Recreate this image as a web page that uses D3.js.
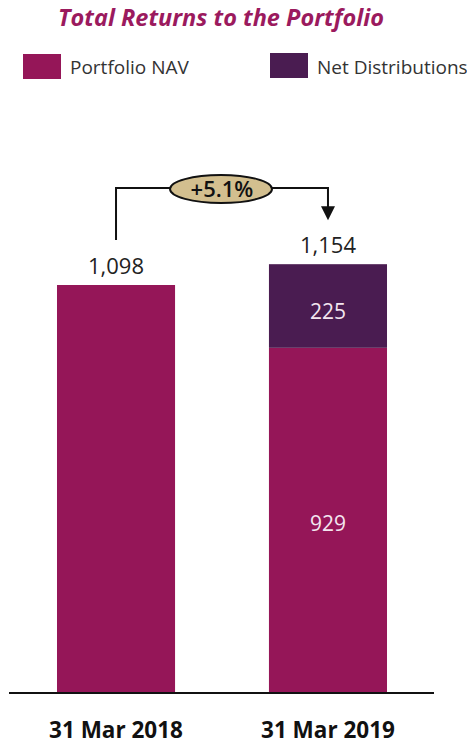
<!DOCTYPE html>
<html>
<head>
<meta charset="utf-8">
<script src="https://cdn.jsdelivr.net/npm/d3@7"></script>
<style>
  html, body { margin: 0; padding: 0; background: #fff; }
  svg { display: block; }
</style>
</head>
<body>
<svg id="chart" width="467" height="747"></svg>
<script>
// Data
const categories = ["31 Mar 2018", "31 Mar 2019"];
const navValues = [1098, 929];
const distValues = [0, 225];
const totalLabels = ["1,098", "1,154"];
const seriesNames = ["Portfolio NAV", "Net Distributions"];
const changeLabel = "+5.1%";

const colors = { nav: "#951658", dist: "#4a1c51", title: "#9b1a5e" };
const fontFamily = "'Open Sans', 'Noto Sans', sans-serif";

const svg = d3.select("#chart");
const baseY = 693;

const totals = navValues.map((v, i) => v + distValues[i]);

const x = d3.scaleBand()
  .domain(categories)
  .range([14.6, 429.4])
  .paddingInner(0.443)
  .paddingOuter(0.2);

const y = d3.scaleLinear()
  .domain([0, 1098])
  .range([baseY, 285]);

// Title
svg.append("text")
  .attr("x", 221).attr("y", 26)
  .attr("text-anchor", "middle")
  .attr("font-family", fontFamily)
  .attr("font-style", "italic")
  .attr("font-weight", "bold")
  .attr("font-size", 23.5)
  .attr("fill", colors.title)
  .text("Total Returns to the Portfolio");

// Legend
const legendItems = [
  { name: seriesNames[0], color: colors.nav, x: 23, y: 54 },
  { name: seriesNames[1], color: colors.dist, x: 270, y: 53 }
];
const lg = svg.append("g");
legendItems.forEach(d => {
  lg.append("rect").attr("x", d.x).attr("y", d.y).attr("width", 38).attr("height", 25).attr("fill", d.color);
  lg.append("text")
    .attr("x", d.x + 47).attr("y", 74)
    .attr("font-family", fontFamily)
    .attr("font-size", 19)
    .attr("fill", "#333")
    .text(d.name);
});

// Stacked bars
const stackData = categories.map((c, i) => ({ cat: c, nav: navValues[i], dist: distValues[i] }));
const stack = d3.stack().keys(["nav", "dist"])(stackData);
const fills = { nav: colors.nav, dist: colors.dist };

svg.append("g").selectAll("g")
  .data(stack)
  .join("g")
  .attr("fill", s => fills[s.key])
  .selectAll("rect")
  .data(s => s.filter(d => d[1] > d[0]))
  .join("rect")
  .attr("x", d => x(d.data.cat))
  .attr("width", x.bandwidth())
  .attr("y", d => y(d[1]))
  .attr("height", d => y(d[0]) - y(d[1]));

// Segment labels inside the 2019 bar
const inner = svg.append("g")
  .attr("font-family", fontFamily)
  .attr("font-size", 21)
  .attr("fill", "#f3e6f0")
  .attr("text-anchor", "middle");
const cx2 = x(categories[1]) + x.bandwidth() / 2;
inner.append("text")
  .attr("x", cx2)
  .attr("y", (y(navValues[1]) + y(totals[1])) / 2 + 13)
  .text(String(distValues[1]));
inner.append("text")
  .attr("x", cx2)
  .attr("y", (y(0) + y(navValues[1])) / 2 + 11)
  .text(String(navValues[1]));

// Total labels above bars
svg.append("g")
  .attr("font-family", fontFamily)
  .attr("font-size", 22)
  .attr("fill", "#222")
  .attr("text-anchor", "middle")
  .selectAll("text")
  .data(categories)
  .join("text")
  .attr("x", c => x(c) + x.bandwidth() / 2)
  .attr("y", (c, i) => y(totals[i]) - 11)
  .text((c, i) => totalLabels[i]);

// Baseline
svg.append("line")
  .attr("x1", 9).attr("x2", 434)
  .attr("y1", baseY).attr("y2", baseY)
  .attr("stroke", "#111").attr("stroke-width", 2);

// Category axis labels
const xAxis = d3.axisBottom(x).tickSize(0).tickPadding(0);
const ax = svg.append("g").attr("transform", `translate(0,${baseY})`).call(xAxis);
ax.select(".domain").remove();
ax.selectAll("text")
  .attr("dy", 0)
  .attr("y", 45)
  .attr("font-family", fontFamily)
  .attr("font-weight", "bold")
  .attr("font-size", 22.5)
  .attr("fill", "#111");

// Growth bracket
const cx1 = x(categories[0]) + x.bandwidth() / 2;
const bracketY = 188;
const tipY = y(totals[1]) - 45;
svg.append("path")
  .attr("d", `M${cx1},${y(totals[0]) - 45} V${bracketY} H${cx2} V${tipY - 10}`)
  .attr("fill", "none")
  .attr("stroke", "#111")
  .attr("stroke-width", 2);
svg.append("path")
  .attr("d", `M${cx2 - 7},${tipY - 13} L${cx2 + 7},${tipY - 13} L${cx2},${tipY + 1} Z`)
  .attr("fill", "#111");

svg.append("ellipse")
  .attr("cx", 221).attr("cy", 189)
  .attr("rx", 51).attr("ry", 14)
  .attr("fill", "#d3bf8f")
  .attr("stroke", "#111")
  .attr("stroke-width", 2);
svg.append("text")
  .attr("x", 222).attr("y", 197)
  .attr("text-anchor", "middle")
  .attr("font-family", fontFamily)
  .attr("font-weight", 600)
  .attr("font-size", 22)
  .attr("fill", "#111")
  .text(changeLabel);
</script>
</body>
</html>
